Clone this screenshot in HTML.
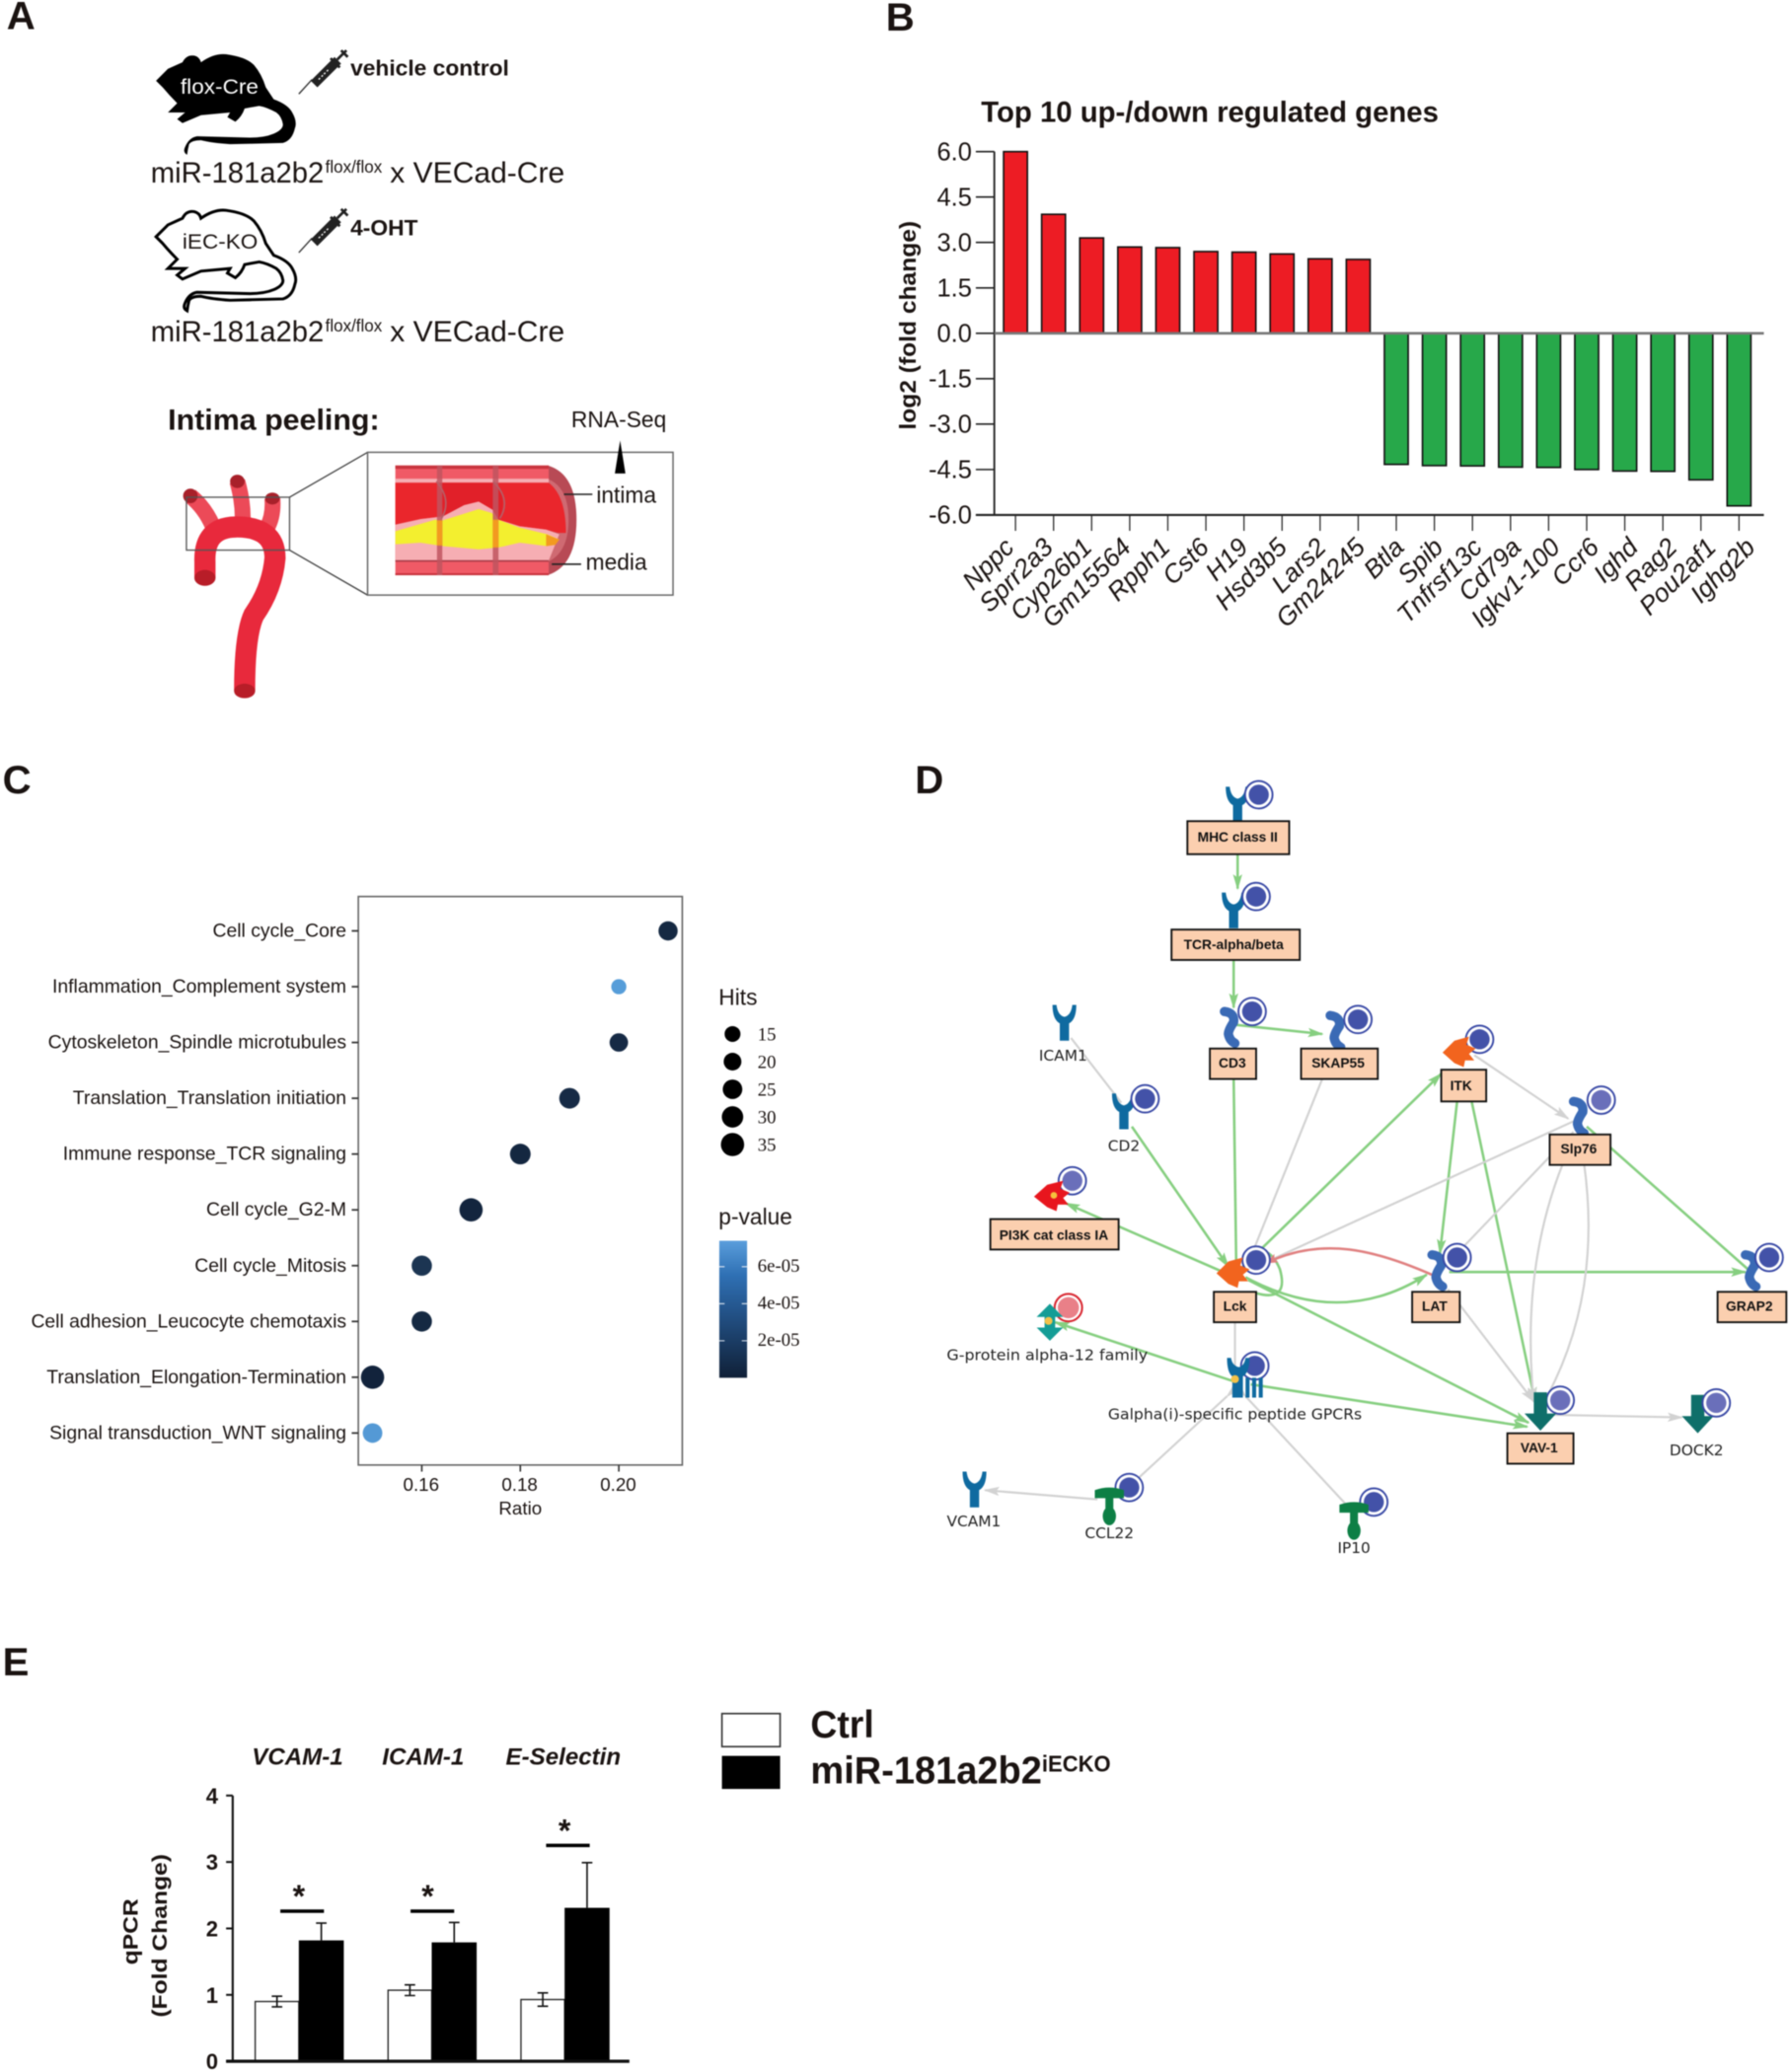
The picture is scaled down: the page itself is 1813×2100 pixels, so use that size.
<!DOCTYPE html>
<html lang="en">
<head>
<meta charset="utf-8">
<title>miR-181a2b2 figure</title>
<style>
html,body{margin:0;padding:0;background:#fff}
svg{display:block;filter:blur(.4px)}
text{font-family:"Liberation Sans",Arial,sans-serif;fill:#1a1311}
.serif{font-family:"Liberation Serif",serif}
.box{fill:#fbcfaf;stroke:#111;stroke-width:1.4}
.bl{font-size:10.3px;font-weight:bold;text-anchor:middle;fill:#111}
.nl{font-size:11.5px;text-anchor:middle;fill:#222;font-family:"DejaVu Sans",sans-serif}
.g{fill:none;stroke:#86cf80;stroke-width:1.9}
.y{fill:none;stroke:#d2d2d2;stroke-width:1.6}
</style>
</head>
<body>
<svg id="fig" xmlns="http://www.w3.org/2000/svg" width="1813" height="2100" viewBox="0 0 1353 1567">
<defs>
<marker id="ag" viewBox="0 0 10 10" refX="9" refY="5" markerWidth="12" markerHeight="7" markerUnits="userSpaceOnUse" orient="auto" preserveAspectRatio="none"><path d="M0,0L10,5L0,10L2,5Z" fill="#86cf80"/></marker>
<marker id="ay" viewBox="0 0 10 10" refX="9" refY="5" markerWidth="12" markerHeight="7" markerUnits="userSpaceOnUse" orient="auto" preserveAspectRatio="none"><path d="M0,0L10,5L0,10L2,5Z" fill="#d2d2d2"/></marker>
<marker id="ar" viewBox="0 0 10 10" refX="9" refY="5" markerWidth="9" markerHeight="7" markerUnits="userSpaceOnUse" orient="auto" preserveAspectRatio="none"><path d="M0,0L10,5L0,10L2,5Z" fill="#e08080"/></marker>
<path id="mouse" d="M118,61L127,52L138,47Q141,41 147,42Q151,43 152,47Q162,40 171,41Q186,43 192,49Q198,56 201,66L207,75Q218,79 221,85Q225,92 223,97Q221,106 214,108L174,109Q160,108 152,106Q145,106 143,109Q142,113 141.5,117Q138,115 140,111Q143,104 149,103L189,104Q200,104 207,101Q214,98 214,94Q213,88 209,85Q202,81 196,80L185,82Q183,88 178,92L172,88.500L174,85L152,87L138,93L134,90L140,85L127,85L134,78Q128,72 123,66Z"/>
<g id="syringe"><path d="M226,71L236,60" stroke="#333" stroke-width="1" fill="none"/><path d="M235,61L240,66L258,48L253,43Z" fill="#222"/><path d="M255,45L262,38M258,38L263,43M250,44L257,51" stroke="#222" stroke-width="2" fill="none"/><path d="M241,60L245,56M245,56L249,52" stroke="#fff" stroke-width="1" stroke-dasharray="1.5 1.5" fill="none"/></g>
<path id="receptor" fill="#0f6aa0" d="M-9,-13L-6,-13Q-5,-5 0,-4Q5,-5 6,-13L9,-13Q9,-2 3.5,1L3.5,14L-3.5,14L-3.5,1Q-9,-2 -9,-13Z"/>
<path id="adapter" fill="none" stroke="#3a6ab5" stroke-width="7" stroke-linecap="round" stroke-linejoin="round" d="M-5,-11Q3,-10 2,-3Q-2,3 -2,6Q-1,11 3,13"/>
<path id="kinase" fill="#f2641e" d="M-14,0L-5,-9L6,-12L4,-6L11,-3L6,1L10,6L3,6L2,11L-5,8Z"/>
<path id="ligand" fill="#0d7f45" d="M-11,-9Q0,-13 11,-9L11,-3L3,-3L3,5A5,7 0 1 1 -3,5L-3,-3L-11,-3Z"/>
<path id="gef" fill="#0f6f6a" d="M-5,-15L5,-15L5,1L12,1L0,14L-12,1L-5,1Z"/>
<g id="cblue"><circle r="10.4" fill="#fff" stroke="#3848a5" stroke-width="1.4"/><circle r="7.6" fill="#4352a8"/></g>
<g id="clight"><circle r="10.4" fill="#fff" stroke="#3848a5" stroke-width="1.4"/><circle r="7.6" fill="#6a6fba"/></g>
</defs>
<rect width="1353" height="1567" fill="#fff"/>

<!-- panel letters -->
<text x="5" y="22" font-size="30" font-weight="bold">A</text>
<text x="670" y="23" font-size="30" font-weight="bold">B</text>
<text x="2" y="600" font-size="30" font-weight="bold">C</text>
<text x="692" y="600" font-size="30" font-weight="bold">D</text>
<text x="2" y="1267" font-size="30" font-weight="bold">E</text>

<!-- PANEL A -->
<g>
<use href="#mouse" fill="#000"/>
<text x="136.500" y="71" font-size="16" textLength="59" lengthAdjust="spacingAndGlyphs" style="fill:#fff">flox-Cre</text>
<use href="#syringe"/>
<text x="265" y="57" font-size="16.500" font-weight="bold" textLength="120" lengthAdjust="spacingAndGlyphs">vehicle control</text>
<text x="114" y="138" font-size="22" textLength="131" lengthAdjust="spacingAndGlyphs">miR-181a2b2</text>
<text x="246" y="130.500" font-size="13" textLength="43" lengthAdjust="spacingAndGlyphs">flox/flox</text>
<text x="295" y="138" font-size="22" textLength="132" lengthAdjust="spacingAndGlyphs">x VECad-Cre</text>

<use href="#mouse" transform="translate(0,118)" fill="#fff" stroke="#000" stroke-width="2.200"/>
<text x="138" y="188" font-size="16" textLength="57" lengthAdjust="spacingAndGlyphs">iEC-KO</text>
<use href="#syringe" transform="translate(0,120)"/>
<text x="265" y="178" font-size="16.500" font-weight="bold" textLength="51" lengthAdjust="spacingAndGlyphs">4-OHT</text>
<text x="114" y="258" font-size="22" textLength="131" lengthAdjust="spacingAndGlyphs">miR-181a2b2</text>
<text x="246" y="250.500" font-size="13" textLength="43" lengthAdjust="spacingAndGlyphs">flox/flox</text>
<text x="295" y="258" font-size="22" textLength="132" lengthAdjust="spacingAndGlyphs">x VECad-Cre</text>

<text x="127" y="325" font-size="22" font-weight="bold" textLength="160" lengthAdjust="spacingAndGlyphs">Intima peeling:</text>
<text x="432" y="323" font-size="17" textLength="72" lengthAdjust="spacingAndGlyphs">RNA-Seq</text>

<g>
<path d="M144,375Q155,384 161,398M179.500,364Q184,380 183.500,394M206,377Q207,390 202,399" stroke="#ec4a58" stroke-width="12" fill="none"/>
<path d="M155,437L155,425Q154,399 178,398.500Q208,398 208,422Q206,445 192,465Q185,480 185,522" stroke="#e8293c" stroke-width="16" fill="none"/>
<ellipse cx="155" cy="437" rx="8" ry="6" fill="#b81d28"/>
<ellipse cx="185" cy="522.500" rx="8" ry="5.500" fill="#b81d28"/>
<ellipse cx="144" cy="375" rx="5.500" ry="5.500" fill="#a8202a"/>
<ellipse cx="179.500" cy="364" rx="5.500" ry="5" fill="#a8202a"/>
<ellipse cx="206" cy="377" rx="5.500" ry="4.500" fill="#a8202a"/>
</g>
<rect x="141" y="376" width="78" height="40" fill="none" stroke="#555" stroke-width="1"/>
<path d="M219,376L278,342M219,416L278,450" stroke="#444" stroke-width="1" fill="none"/>
<rect x="278" y="342" width="231" height="108" fill="#fff" stroke="#666" stroke-width="1.100"/>
<g>
<path d="M414,352Q436,358 436,393Q436,428 414,435Z" fill="#b84a55"/>
<path d="M414,362Q430,368 430,393Q430,418 414,425Z" fill="#cf6a72"/>
<rect x="299" y="352" width="116" height="83" fill="#f05a66"/>
<rect x="299" y="352" width="116" height="2.500" fill="#c8353f"/>
<rect x="299" y="362" width="116" height="3" fill="#f6aeb3"/>
<path d="M299,365L415,365Q428,375 428,403L422,403L413,400.500L393,398L377,393L372.500,385.500L362,379.300L351,382L335,390.500L318,392.500L299,396.700Z" fill="#ea262c"/>
<path d="M334,365H373Q384,372 378,393L372.500,385.500L362,379.300L351,382L335,390.500Z" fill="#e12029"/>
<path d="M299,396.700L318,392.500L335,390.500L351,382L362,379.300L372.500,385.500L377,393L393,398L413,400.500L423,404L415,424H299Z" fill="#f6aeb3"/>
<path d="M299,401.700L329,393L335,393.500L362,385L372,388L377,393L393,399L414,404L423,408L414,413L393,410.400L377,414L362,415.400L335,413L318,410.400L299,411.600Z" fill="#f3ef2f"/>
<path d="M413,404L423,408L420,412L413,413Z" fill="#f39a20"/>
<rect x="299" y="423.600" width="116" height="1.200" fill="#a83a46"/>
<rect x="299" y="433.500" width="116" height="1.500" fill="#c8353f"/>
<rect x="330.500" y="352" width="4" height="83" fill="#c0555f" opacity=".85"/>
<rect x="372.700" y="352" width="4.300" height="83" fill="#c0555f" opacity=".85"/>
<rect x="330.500" y="393.500" width="4" height="19" fill="#f39a20"/>
<rect x="372.700" y="393" width="4.300" height="21" fill="#f39a20"/>
<path d="M330,364Q342,378 334,392M373,364Q387,378 378,392" stroke="#b56068" stroke-width="1.200" fill="none"/>
</g>
<path d="M426.500,373.800H448M417.300,426.600H439.500" stroke="#222" stroke-width="1.200" fill="none"/>
<text x="451" y="380" font-size="17">intima</text>
<text x="443" y="431" font-size="17">media</text>
<path d="M469,333L465,358H473Z" fill="#000"/>
</g>

<!-- PANEL B -->
<text x="742" y="92" font-size="22" font-weight="bold" textLength="346" lengthAdjust="spacingAndGlyphs">Top 10 up-/down regulated genes</text>
<text transform="translate(692.500,246) rotate(-90)" font-size="17.500" font-weight="bold" text-anchor="middle" textLength="158" lengthAdjust="spacingAndGlyphs">log2 (fold change)</text>
<g id="chartB"></g>

<!-- PANEL C -->
<g id="chartC"></g>

<!-- PANEL D -->
<g>
<g>
<path class="g" marker-end="url(#ag)" d="M936,646V672"/>
<path class="g" marker-end="url(#ag)" d="M933,726V762"/>
<path class="g" marker-end="url(#ag)" d="M934,775L1000,782"/>
<path class="g" d="M933,816L935,960"/>
<path class="g" marker-end="url(#ag)" d="M856,852L929,958"/>
<path class="g" marker-end="url(#ag)" d="M938,960L1090,812"/>
<path class="g" marker-end="url(#ag)" d="M1102,833L1089,948"/>
<path class="g" marker-end="url(#ag)" d="M1113,833L1161,1060"/>
<path class="g" d="M1200,852L1322,960"/>
<path class="g" marker-end="url(#ag)" d="M1096,962L1320,962"/>
<path class="g" marker-end="url(#ag)" d="M925,962L806,910"/>
<path class="g" marker-end="url(#ag)" d="M942,966Q1015,1005 1079,964"/>
<path class="g" d="M950,978Q975,985 968,960Q962,945 950,945"/>
<path class="g" marker-end="url(#ag)" d="M944,968L1156,1076"/>
<path class="g" marker-end="url(#ag)" d="M934,1045L798,1000"/>
<path class="g" marker-end="url(#ag)" d="M946,1047L1155,1079"/>
<path class="y" d="M810,785L848,834"/>
<path class="y" marker-end="url(#ay)" d="M1000,816L943,958"/>
<path class="y" marker-end="url(#ay)" d="M1115,798L1186,846"/>
<path class="y" marker-end="url(#ay)" d="M1190,848L950,958"/>
<path class="y" marker-end="url(#ay)" d="M1190,856L1100,950"/>
<path class="y" marker-end="url(#ay)" d="M1182,880Q1150,960 1160,1060"/>
<path class="y" d="M1198,880Q1212,980 1168,1060"/>
<path class="y" marker-end="url(#ay)" d="M1095,975L1160,1060"/>
<path class="y" d="M934,1000V1035"/>
<path class="y" marker-start="url(#ay)" d="M928,1056L850,1128"/>
<path class="y" marker-start="url(#ay)" d="M942,1056L1020,1140"/>
<path class="y" marker-end="url(#ay)" d="M830,1134L745,1127"/>
<path class="y" marker-end="url(#ay)" d="M1175,1070L1272,1072"/>
<path fill="none" stroke="#e08080" stroke-width="1.900" marker-end="url(#ar)" d="M1085,965C1040,945 1000,935 958,955"/>
</g>

<g>
<use href="#receptor" x="936" y="608"/><use href="#cblue" x="952" y="601"/>
<rect class="box" x="898" y="621" width="77" height="25"/><text class="bl" x="936" y="636.500">MHC class II</text></g>
<g>
<use href="#receptor" x="933" y="688"/><use href="#cblue" x="950" y="678"/>
<rect class="box" x="886" y="703" width="97" height="23"/><text class="bl" x="933" y="718">TCR-alpha/beta</text></g>
<g>
<use href="#adapter" x="931" y="776"/><use href="#cblue" x="947" y="765"/>
<rect class="box" x="915" y="793" width="35" height="23"/><text class="bl" x="932" y="807.500">CD3</text></g>
<g>
<use href="#adapter" x="1011" y="779"/><use href="#cblue" x="1027" y="771"/>
<rect class="box" x="984" y="793" width="58" height="23"/><text class="bl" x="1012" y="807.500">SKAP55</text></g>
<g>
<use href="#receptor" x="805" y="773"/><text class="nl" x="804" y="802">ICAM1</text></g>
<g>
<use href="#receptor" x="850" y="840"/><use href="#cblue" x="866" y="831"/><text class="nl" x="850" y="870.500">CD2</text></g>
<g>
<use href="#cblue" x="1119" y="786"/>
<use href="#kinase" x="1105" y="796"/>
<rect class="box" x="1090" y="809" width="34" height="24"/><text class="bl" x="1105" y="824.500">ITK</text></g>
<g>
<use href="#adapter" x="1195" y="844"/><use href="#clight" x="1211" y="832"/>
<rect class="box" x="1172" y="858" width="46" height="23"/><text class="bl" x="1194" y="872.500">Slp76</text></g>
<g>
<use href="#clight" x="811" y="893"/>
<path fill="#e8161e" d="M782,905L792,896L804,893L802,899L809,902L804,906L808,911L800,911L799,916L792,913Z"/>
<circle cx="797" cy="904" r="2.500" fill="#f6c23c"/>
<rect class="box" x="749" y="922" width="97" height="23"/><text class="bl" x="797" y="937.500">PI3K cat class IA</text></g>
<g>
<use href="#cblue" x="950" y="953"/><use href="#kinase" x="934" y="963"/>
<rect class="box" x="918" y="977" width="32" height="23"/><text class="bl" x="934" y="991.500">Lck</text></g>
<g>
<use href="#adapter" x="1088" y="960"/><use href="#cblue" x="1102" y="951"/>
<rect class="box" x="1068" y="977" width="36" height="23"/><text class="bl" x="1085" y="991.500">LAT</text></g>
<g>
<use href="#adapter" x="1325" y="960"/><use href="#cblue" x="1338" y="951"/>
<rect class="box" x="1299" y="977" width="52" height="23"/><text class="bl" x="1323" y="991.500">GRAP2</text></g>
<g>
<circle cx="808" cy="989" r="10.400" fill="#fff" stroke="#d8252f" stroke-width="1.500"/><circle cx="808" cy="989" r="8" fill="#e98088"/>
<path fill="#149d96" d="M794,986L784,996H790V1004H784L794,1014L804,1004H798V996H804Z"/><circle cx="793" cy="999" r="3" fill="#f3c24a"/>
<text class="nl" x="792" y="1028.500" textLength="152" lengthAdjust="spacingAndGlyphs">G-protein alpha-12 family</text></g>
<g>
<use href="#cblue" x="949" y="1033"/>
<path fill="#0f6aa0" d="M928,1027L931,1027Q932,1033 937,1034Q941,1033 942,1027L945,1027Q945,1038 940,1041V1057H932V1041Q928,1038 928,1027ZM942,1042H945V1057H942ZM947,1042H950V1057H947ZM952,1042H955V1057H952Z"/>
<circle cx="934" cy="1043" r="3" fill="#f3c24a"/>
<text class="nl" x="934" y="1073.500" textLength="192" lengthAdjust="spacingAndGlyphs">Galpha(i)-specific peptide GPCRs</text></g>
<g>
<use href="#clight" x="1180" y="1059"/><use href="#gef" x="1165" y="1068"/>
<rect class="box" x="1140" y="1084" width="50" height="23"/><text class="bl" x="1164" y="1098.500">VAV-1</text></g>
<g>
<use href="#gef" x="1284" y="1070"/><use href="#clight" x="1298" y="1061"/><text class="nl" x="1283" y="1100.500">DOCK2</text></g>
<g>
<use href="#receptor" x="737" y="1126"/><text class="nl" x="736.500" y="1154.500">VCAM1</text></g>
<g>
<use href="#cblue" x="854" y="1125"/><use href="#ligand" x="839" y="1136"/><text class="nl" x="839" y="1163.500">CCL22</text></g>
<g>
<use href="#cblue" x="1039" y="1136"/><use href="#ligand" x="1024" y="1147"/><text class="nl" x="1024" y="1174.500">IP10</text></g>
</g>

<!-- PANEL E -->
<g id="chartE"></g>
<text transform="translate(104,1461) rotate(-90) scale(1.15,1)" font-size="16" font-weight="bold" text-anchor="middle">qPCR</text>
<text transform="translate(126,1464) rotate(-90) scale(1.15,1)" font-size="16" font-weight="bold" text-anchor="middle">(Fold Change)</text>
<rect x="546" y="1296" width="44" height="25" fill="#fff" stroke="#333" stroke-width="1.200"/>
<rect x="546" y="1328" width="44" height="25" fill="#000"/>
<text x="613" y="1314" font-size="29" font-weight="bold" textLength="48" lengthAdjust="spacingAndGlyphs">Ctrl</text>
<text x="613" y="1349" font-size="29" font-weight="bold" textLength="175" lengthAdjust="spacingAndGlyphs">miR-181a2b2</text>
<text x="788" y="1340" font-size="17" font-weight="bold" textLength="52" lengthAdjust="spacingAndGlyphs">iECKO</text>

<script>
var NS = 'http://www.w3.org/2000/svg';
function mk(parent, tag, attrs, txt) {
  var el = document.createElementNS(NS, tag);
  for (var k in attrs) el.setAttribute(k, attrs[k]);
  if (txt !== undefined) el.textContent = txt;
  parent.appendChild(el);
  return el;
}

/* ---------- chart B data ---------- */
var bGenes = ['Nppc','Sprr2a3','Cyp26b1','Gm15564','Rpph1','Cst6','H19','Hsd3b5','Lars2','Gm24245','Btla','Spib','Tnfrsf13c','Cd79a','Igkv1-100','Ccr6','Ighd','Rag2','Pou2af1','Ighg2b'];
var bValues = [6.0,3.93,3.15,2.85,2.83,2.7,2.68,2.62,2.46,2.44,-4.33,-4.37,-4.38,-4.42,-4.43,-4.5,-4.55,-4.56,-4.84,-5.7];
var bTicks = [6,4.5,3,1.5,0,-1.5,-3,-4.5,-6];

/* ---------- chart C data ---------- */
var cTerms = ['Cell cycle_Core','Inflammation_Complement system','Cytoskeleton_Spindle microtubules','Translation_Translation initiation','Immune response_TCR signaling','Cell cycle_G2-M','Cell cycle_Mitosis','Cell adhesion_Leucocyte chemotaxis','Translation_Elongation-Termination','Signal transduction_WNT signaling'];
var cRatio = [0.21,0.20,0.20,0.19,0.18,0.17,0.16,0.16,0.15,0.15];
var cHits = [24,13,22,28,28,35,27,27,35,25];
var cPvalue = [5e-6,7.2e-5,6e-6,6e-6,4e-6,3e-6,1.2e-5,5e-6,2e-6,7e-5];
var cXTicks = [0.16,0.18,0.20];
var cHitLegend = [15,20,25,30,35];
var cPTicks = [6e-5,4e-5,2e-5];

/* ---------- chart E data ---------- */
var eGenes = ['VCAM-1','ICAM-1','E-Selectin'];
var eCtrl = [0.9,1.07,0.93];
var eCtrlErr = [0.08,0.08,0.1];
var eKo = [1.82,1.79,2.31];
var eKoErr = [0.26,0.3,0.68];
var eSig = [2.26,2.26,3.25];
var eTicks = [0,1,2,3,4];

/* ---------- chart B ---------- */
(function () {
  var g = document.getElementById('chartB');
  var yB = function (v) { return 252 - v * 22.9; };
  var xB = function (i) { return 768 + i * 28.8; };
  var xLabel = function (i) { return 768 + i * 29.5; };
  bValues.forEach(function (v, i) {
    var top = Math.min(yB(v), yB(0));
    var bar = mk(g, 'rect', {x: xB(i) - 9, y: top, width: 18, height: Math.abs(yB(v) - yB(0)), fill: v >= 0 ? '#ed1c24' : '#27a84a', stroke: '#111', 'stroke-width': 1.2});
    
    
    var tick = mk(g, 'line', {x1: xB(i), x2: xB(i), y1: yB(-6), y2: yB(-6) + 12, stroke: '#333', 'stroke-width': 1});
    
    
    var lab = mk(g, 'text', {'font-size': 19.5, 'font-style': 'italic', 'text-anchor': 'end', transform: 'translate(' + xLabel(i) + ',415) rotate(-45)'}, bGenes[i]);
    
    
  });
  var yAxis = mk(g, 'line', {x1: 752, x2: 752, y1: yB(6), y2: yB(-6), stroke: '#222', 'stroke-width': 1.4});
  
  
  var zero = mk(g, 'line', {x1: 752, x2: 1334, y1: yB(0), y2: yB(0), stroke: '#777', 'stroke-width': 2});
  
  
  var xAxis = mk(g, 'line', {x1: 738, x2: 1334, y1: yB(-6), y2: yB(-6), stroke: '#222', 'stroke-width': 1.6});
  
  
  bTicks.forEach(function (t) {
    var tk = mk(g, 'line', {x1: 738, x2: 752, y1: yB(t), y2: yB(t), stroke: '#222', 'stroke-width': 1.2});
    
    
    var lb = mk(g, 'text', {x: 735, y: yB(t) + 6.5, 'font-size': 19, 'text-anchor': 'end'}, t.toFixed(1));
    
    
  });
})();

/* ---------- chart C ---------- */
(function () {
  var g = document.getElementById('chartC');
  var xC = function (r) { return 319 + (r - 0.16) * 3725; };
  var yC = function (i) { return 704 + i * 42.2; };
  var rC = function (h) { return 6 + (h - 15) * 0.14; };
  var pY = function (p) { return 1042 - p / 2e-5 * 28; };
  var col = function (p) {
    var t = p / 7.4e-5, a = [16, 32, 55], b = [88, 160, 222];
    return 'rgb(' + a.map(function (c, k) { return Math.round(c + (b[k] - c) * t); }).join(',') + ')';
  };
  var frame = mk(g, 'rect', {x: 271, y: 678, width: 245, height: 430, fill: '#fff', stroke: '#666', 'stroke-width': 1.2});
  
  
  cTerms.forEach(function (t, i) {
    var tk = mk(g, 'line', {x1: 266, x2: 271, y1: yC(i), y2: yC(i), stroke: '#333', 'stroke-width': 1.3});
    
    
    var lb = mk(g, 'text', {x: 262, y: yC(i) + 4.5, 'font-size': 14.45, 'text-anchor': 'end'}, t);
    
    
    var dot = mk(g, 'circle', {cx: xC(cRatio[i]), cy: yC(i), r: rC(cHits[i]), fill: col(cPvalue[i])});
    
    
  });
  cXTicks.forEach(function (t) {
    var tk = mk(g, 'line', {x1: xC(t), x2: xC(t), y1: 1108, y2: 1113, stroke: '#333', 'stroke-width': 1.2});
    
    
    var lb = mk(g, 'text', {x: xC(t) - 0.5, y: 1127.5, 'font-size': 14, 'text-anchor': 'middle'}, t.toFixed(2));
    
    
  });
  var xt = mk(g, 'text', {x: 393.5, y: 1145.5, 'font-size': 14, 'text-anchor': 'middle'}, 'Ratio');
  
  
  var ht = mk(g, 'text', {x: 543.5, y: 760, 'font-size': 17}, 'Hits');
  
  
  cHitLegend.forEach(function (h, i) {
    var c = mk(g, 'circle', {cx: 554, cy: 782 + i * 20.9, r: rC(h), fill: '#000'});
    
    
    var l = mk(g, 'text', {x: 573, y: 787 + i * 20.9, 'font-size': 14, 'class': 'serif'}, String(h));
    
    
  });
  var pt = mk(g, 'text', {x: 543.5, y: 926, 'font-size': 17}, 'p-value');
  
  
  var defs = mk(g, 'defs', {});
  var grad = mk(defs, 'linearGradient', {id: 'pgrad', x1: 0, y1: 1, x2: 0, y2: 0});
  mk(grad, 'stop', {offset: '0', 'stop-color': col(0)});
  mk(grad, 'stop', {offset: '0.5', 'stop-color': '#24558c'});
  mk(grad, 'stop', {offset: '0.75', 'stop-color': '#2f70b4'});
  mk(grad, 'stop', {offset: '1', 'stop-color': '#5a9edc'});
  var bar = mk(g, 'rect', {x: 544, y: pY(7.4e-5), width: 21, height: pY(0) - pY(7.4e-5), fill: 'url(#pgrad)'});
  
  
  cPTicks.forEach(function (p) {
    var tk = mk(g, 'path', {d: 'M544,' + pY(p) + 'h4M561,' + pY(p) + 'h4', stroke: '#dfe8f2', 'stroke-width': 0.8, fill: 'none'});
    
    
    var lb = mk(g, 'text', {x: 573, y: pY(p) + 4, 'font-size': 14, 'class': 'serif'}, p.toExponential(0).replace('e-5', 'e-05'));
    
    
  });
})();

/* ---------- chart E ---------- */
(function () {
  var g = document.getElementById('chartE');
  var yE = function (v) { return 1559 - v * 50.25; };
  var xE = function (i) { return 226 + i * 100.5; };
  var labelX = [225, 320, 426];
  var err = function (x, v, e) {
    var p = mk(g, 'path', {d: 'M' + x + ',' + yE(v + e) + 'V' + yE(v - (v < 1.2 ? e : 0)) + 'M' + (x - 4) + ',' + yE(v + e) + 'h8' + (v < 1.2 ? 'M' + (x - 4) + ',' + yE(v - e) + 'h8' : ''), stroke: '#111', 'stroke-width': 1.2, fill: 'none'});
    
    
  };
  eGenes.forEach(function (n, i) {
    var x = xE(i);
    var c = mk(g, 'rect', {x: x - 33, y: yE(eCtrl[i]), width: 33, height: yE(0) - yE(eCtrl[i]), fill: '#fff', stroke: '#222', 'stroke-width': 1});
    
    
    err(x - 16.5, eCtrl[i], eCtrlErr[i]);
    err(x + 17, eKo[i], eKoErr[i]);
    var k = mk(g, 'rect', {x: x, y: yE(eKo[i]), width: 34, height: yE(0) - yE(eKo[i]), fill: '#000'});
    
    
    var s = mk(g, 'line', {x1: x - 14 - (i === 1 ? 2 : 0), x2: x + 19 - (i === 1 ? 2 : 0), y1: yE(eSig[i]), y2: yE(eSig[i]), stroke: '#000', 'stroke-width': 2.6});
    
    
    var st = mk(g, 'text', {x: x - (i === 1 ? 3 : 0), y: yE(eSig[i]) - 3, 'font-size': 24, 'font-weight': 'bold', 'text-anchor': 'middle'}, '*');
    
    
    var lb = mk(g, 'text', {x: labelX[i], y: 1334.5, 'font-size': 18, 'font-weight': 'bold', 'font-style': 'italic', 'text-anchor': 'middle'}, n);
    
    
  });
  var ax = mk(g, 'line', {x1: 176, x2: 176, y1: yE(4), y2: yE(0), stroke: '#111', 'stroke-width': 1.6});
  
  
  var bx = mk(g, 'line', {x1: 171, x2: 476, y1: yE(0), y2: yE(0), stroke: '#111', 'stroke-width': 2.4});
  
  
  eTicks.forEach(function (t) {
    var tk = mk(g, 'line', {x1: 171, x2: 176, y1: yE(t), y2: yE(t), stroke: '#111', 'stroke-width': 1.5});
    
    
    var lb = mk(g, 'text', {x: 165, y: yE(t) + 6, 'font-size': 16.5, 'font-weight': 'bold', 'text-anchor': 'end'}, String(t));
    
    
  });
})();
</script>
</svg>
</body>
</html>
